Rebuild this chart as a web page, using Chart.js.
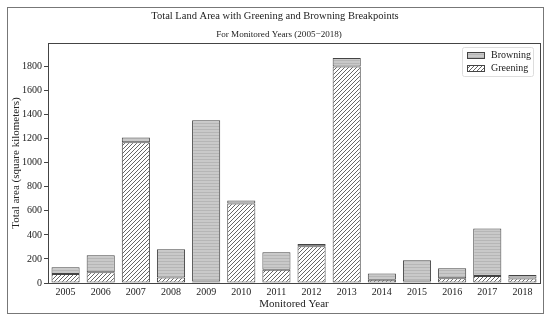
<!DOCTYPE html>
<html>
<head>
<meta charset="utf-8">
<script src="https://cdn.jsdelivr.net/npm/chart.js@4"></script>
<style>
  html, body { margin: 0; padding: 0; background: #fff; }
  canvas { display: block; }
</style>
</head>
<body>
<canvas id="chart" width="550" height="321"></canvas>
<script>
// --- data ---
const years = ['2005', '2006', '2007', '2008', '2009', '2010', '2011', '2012', '2013', '2014', '2015', '2016', '2017', '2018'];
const greening = [75, 90, 1170, 45, 12, 660, 110, 305, 1800, 28, 12, 40, 58, 37];
const browning = [55, 140, 40, 235, 1340, 25, 145, 20, 70, 52, 178, 82, 395, 30];
const yTicks = [0, 200, 400, 600, 800, 1000, 1200, 1400, 1600, 1800];
const yMax = 1995;

const SERIF = '"Liberation Serif", "DejaVu Serif", serif';
const TEXT = '#222';

// hatch patterns (matplotlib-ish)
function makeGreeningPattern() {
    const c = document.createElement('canvas');
    c.width = 4; c.height = 4;
    const g = c.getContext('2d');
    g.fillStyle = '#fff';
    g.fillRect(0, 0, 4, 4);
    g.strokeStyle = '#555';
    g.lineWidth = 0.9;
    g.beginPath();
    g.moveTo(-1, 5); g.lineTo(5, -1);
    g.moveTo(-1, 1); g.lineTo(1, -1);
    g.moveTo(3, 5); g.lineTo(5, 3);
    g.stroke();
    return g.createPattern(c, 'repeat');
}

function makeBrowningPattern() {
    const c = document.createElement('canvas');
    c.width = 4; c.height = 3;
    const g = c.getContext('2d');
    g.fillStyle = '#c9c9c9';
    g.fillRect(0, 0, 4, 3);
    g.fillStyle = '#b6b6b6';
    g.fillRect(0, 0, 4, 1);
    return g.createPattern(c, 'repeat');
}

const greenPat = makeGreeningPattern();
const brownPat = makeBrowningPattern();

// titles, frame, plot box and legend
const decor = {
    id: 'decor',
    afterDraw(chart) {
        const ctx = chart.ctx;
        const a = chart.chartArea;
        ctx.save();

        // outer frame
        ctx.strokeStyle = '#777';
        ctx.lineWidth = 1;
        ctx.strokeRect(7.5, 7.5, 536, 306);

        // plot box
        ctx.strokeStyle = '#444';
        ctx.strokeRect(Math.round(a.left) + 0.5, Math.round(a.top) + 0.5,
            Math.round(a.right - a.left), Math.round(a.bottom - a.top));

        // titles
        ctx.fillStyle = TEXT;
        ctx.textAlign = 'center';
        ctx.textBaseline = 'middle';
        ctx.font = '10.5px ' + SERIF;
        ctx.fillText('Total Land Area with Greening and Browning Breakpoints', 275, 16);
        ctx.font = '9.1px ' + SERIF;
        ctx.fillText('For Monitored Years (2005\u22122018)', 279, 35);

        // legend
        const lx = 462.5, ly = 47.5, lw = 71, lh = 29;
        ctx.fillStyle = 'rgba(255,255,255,0.9)';
        ctx.strokeStyle = '#ddd';
        ctx.beginPath();
        ctx.roundRect(lx, ly, lw, lh, 2);
        ctx.fill();
        ctx.stroke();

        const items = [
            { label: 'Browning', fill: brownPat, y: 55 },
            { label: 'Greening', fill: greenPat, y: 68 }
        ];
        ctx.font = '10px ' + SERIF;
        ctx.textAlign = 'left';
        items.forEach(it => {
            ctx.fillStyle = it.fill;
            ctx.fillRect(467, it.y - 3, 17, 6);
            ctx.strokeStyle = '#444';
            ctx.strokeRect(467.5, it.y - 2.5, 17, 6);
            ctx.fillStyle = TEXT;
            ctx.fillText(it.label, 491, it.y);
        });

        ctx.restore();
    }
};

new Chart(document.getElementById('chart'), {
    type: 'bar',
    data: {
        labels: years,
        datasets: [
            {
                label: 'Greening',
                data: greening,
                backgroundColor: greenPat,
                borderColor: '#444',
                borderWidth: 1,
                borderSkipped: false,
                barPercentage: 0.8,
                categoryPercentage: 1
            },
            {
                label: 'Browning',
                data: browning,
                backgroundColor: brownPat,
                borderColor: '#444',
                borderWidth: 1,
                borderSkipped: false,
                barPercentage: 0.8,
                categoryPercentage: 1
            }
        ]
    },
    options: {
        responsive: false,
        animation: false,
        devicePixelRatio: 1,
        layout: { padding: { top: 43, left: 8, right: 10, bottom: 10 } },
        plugins: {
            legend: { display: false },
            tooltip: { enabled: false }
        },
        scales: {
            x: {
                stacked: true,
                grid: { display: false, drawTicks: true, tickLength: 3, color: '#444' },
                border: { display: false },
                ticks: { color: TEXT, font: { family: SERIF, size: 10 }, padding: 0, maxRotation: 0 },
                title: { display: true, text: 'Monitored Year', color: TEXT, font: { family: SERIF, size: 11 }, padding: { top: 0, bottom: 0 } },
                afterFit(scale) { scale.height = 28; }
            },
            y: {
                stacked: true,
                min: 0,
                max: yMax,
                grid: { drawOnChartArea: false, drawTicks: true, tickLength: 4, color: '#444' },
                border: { display: false },
                afterBuildTicks(scale) { scale.ticks = yTicks.map(v => ({ value: v })); },
                ticks: { color: TEXT, font: { family: SERIF, size: 10 }, padding: 2, callback: v => String(v) },
                title: { display: true, text: 'Total area (square kilometers)', color: TEXT, font: { family: SERIF, size: 11 }, padding: { top: 2, bottom: 0 } },
                afterFit(scale) { scale.width = 40; }
            }
        }
    },
    plugins: [decor]
});
</script>
</body>
</html>
